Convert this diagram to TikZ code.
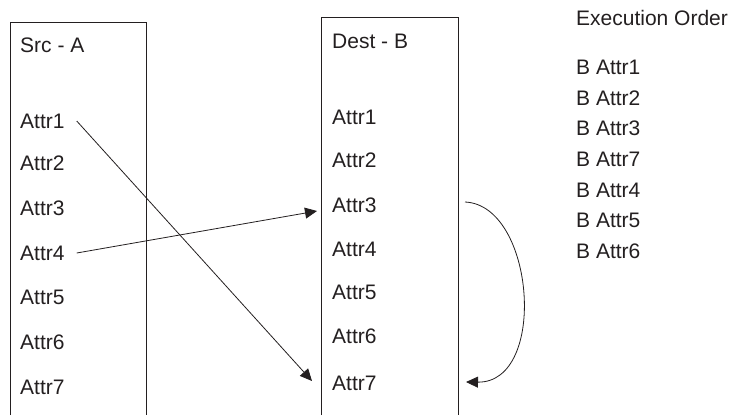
\documentclass[tikz,border=0pt]{standalone}
\usepackage{fontspec}
\setmainfont{Liberation Sans}
\usetikzlibrary{arrows.meta}
\definecolor{ink}{HTML}{231F20}
\begin{document}
\begin{tikzpicture}[x=1pt,y=-1pt,
  lbl/.style={anchor=base west,inner sep=0pt,text=ink,font=\fontsize{21}{24}\selectfont},
  boxline/.style={draw=ink,line width=0.9pt},
  conn/.style={draw=ink,line width=0.8pt,-{Triangle[length=12pt,width=11pt]}}]
\useasboundingbox (0,0) rectangle (738,415);
% boxes (open at the bottom)
\draw[boxline] (10,415) -- (10,22) -- (146,22) -- (146,415);
\draw[boxline] (321,415) -- (321,17) -- (458,17) -- (458,415);
% Src - A
\node[lbl] (ta) at (20,52) {Src - A};
\node[lbl] (a1) at (20,128) {Attr1};
\node[lbl] (a2) at (20,170) {Attr2};
\node[lbl] (a3) at (20,215) {Attr3};
\node[lbl] (a4) at (20,260) {Attr4};
\node[lbl] (a5) at (20,304) {Attr5};
\node[lbl] (a6) at (20,349) {Attr6};
\node[lbl] (a7) at (20,394) {Attr7};
% Dest - B
\node[lbl] (tb) at (332,48) {Dest - B};
\node[lbl] (b1) at (332,124) {Attr1};
\node[lbl] (b2) at (332,167) {Attr2};
\node[lbl] (b3) at (332,212) {Attr3};
\node[lbl] (b4) at (332,256) {Attr4};
\node[lbl] (b5) at (332,299) {Attr5};
\node[lbl] (b6) at (332,343) {Attr6};
\node[lbl] (b7) at (332,390) {Attr7};
% Execution order
\node[lbl] (eo) at (576,25) {Execution Order};
\node[lbl] (e1) at (576,74) {B Attr1};
\node[lbl] (e2) at (576,105) {B Attr2};
\node[lbl] (e3) at (576,135) {B Attr3};
\node[lbl] (e4) at (576,166) {B Attr7};
\node[lbl] (e5) at (576,197) {B Attr4};
\node[lbl] (e6) at (576,227) {B Attr5};
\node[lbl] (e7) at (576,258) {B Attr6};
% anchors for connectors (yshift is in page direction: positive = up)
\coordinate (s1) at ([xshift=12pt,yshift=7pt]a1.base east);
\coordinate (t1) at ([xshift=-20pt,yshift=9pt]b7.base west);
\coordinate (s4) at ([xshift=12pt,yshift=7pt]a4.base east);
\coordinate (t3) at ([xshift=-15pt,yshift=1pt]b3.base west);
\coordinate (s3) at ([xshift=133pt,yshift=10pt]b3.base west);
\coordinate (t7) at ([xshift=134pt,yshift=8pt]b7.base west);
\draw[conn] (s1) -- (t1);
\draw[conn] (s4) -- (t3);
\draw[conn] (s3) .. controls (535,205) and (548,383) .. (t7);
\end{tikzpicture}
\end{document}
